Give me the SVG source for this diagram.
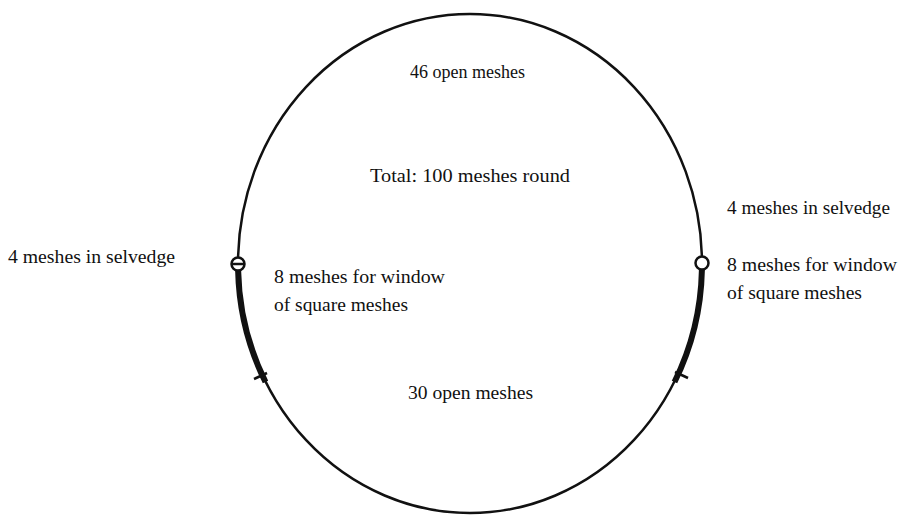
<svg xmlns="http://www.w3.org/2000/svg" width="901" height="516" viewBox="0 0 901 516">
<style>
.t{font-family:"Liberation Serif","DejaVu Serif",serif;font-size:19px;fill:#111}
.ln{fill:none;stroke:#111;stroke-width:2.5}
.thick{fill:none;stroke:#111;stroke-width:6;stroke-linecap:butt}
.mk{fill:#fff;stroke:#111;stroke-width:2.5}
</style>
<rect width="901" height="516" fill="#fff"/>
<g id="connectors">
<ellipse id="net" class="ln" cx="470" cy="263.5" rx="232" ry="249.5"/>
<path class="thick" d="M238.1,270 A232,249.5 0 0 0 265.5,382"/>
<path class="thick" d="M701.9,270 A232,249.5 0 0 1 674.5,382"/>
<line class="ln" x1="254" y1="379" x2="267" y2="373"/>
<line class="ln" x1="675" y1="372" x2="688" y2="378"/>
</g>
<g id="left-marker">
<circle class="mk" cx="238" cy="264" r="6.5"/>
<line class="ln" x1="232" y1="264" x2="244" y2="264"/>
</g>
<g id="right-marker">
<circle class="mk" cx="702" cy="263" r="6.5"/>
</g>
<g id="labels">
<text class="t" x="410" y="78" textLength="115" lengthAdjust="spacingAndGlyphs">46 open meshes</text>
<text class="t" x="370" y="182" textLength="200" lengthAdjust="spacingAndGlyphs">Total: 100 meshes round</text>
<text class="t" x="8" y="263" textLength="167" lengthAdjust="spacingAndGlyphs">4 meshes in selvedge</text>
<text class="t" x="274" y="283" textLength="171" lengthAdjust="spacingAndGlyphs">8 meshes for window</text>
<text class="t" x="274" y="311" textLength="134" lengthAdjust="spacingAndGlyphs">of square meshes</text>
<text class="t" x="408" y="399" textLength="125" lengthAdjust="spacingAndGlyphs">30 open meshes</text>
<text class="t" x="727" y="214" textLength="163" lengthAdjust="spacingAndGlyphs">4 meshes in selvedge</text>
<text class="t" x="727" y="271" textLength="170" lengthAdjust="spacingAndGlyphs">8 meshes for window</text>
<text class="t" x="727" y="299" textLength="135" lengthAdjust="spacingAndGlyphs">of square meshes</text>
</g>
</svg>
